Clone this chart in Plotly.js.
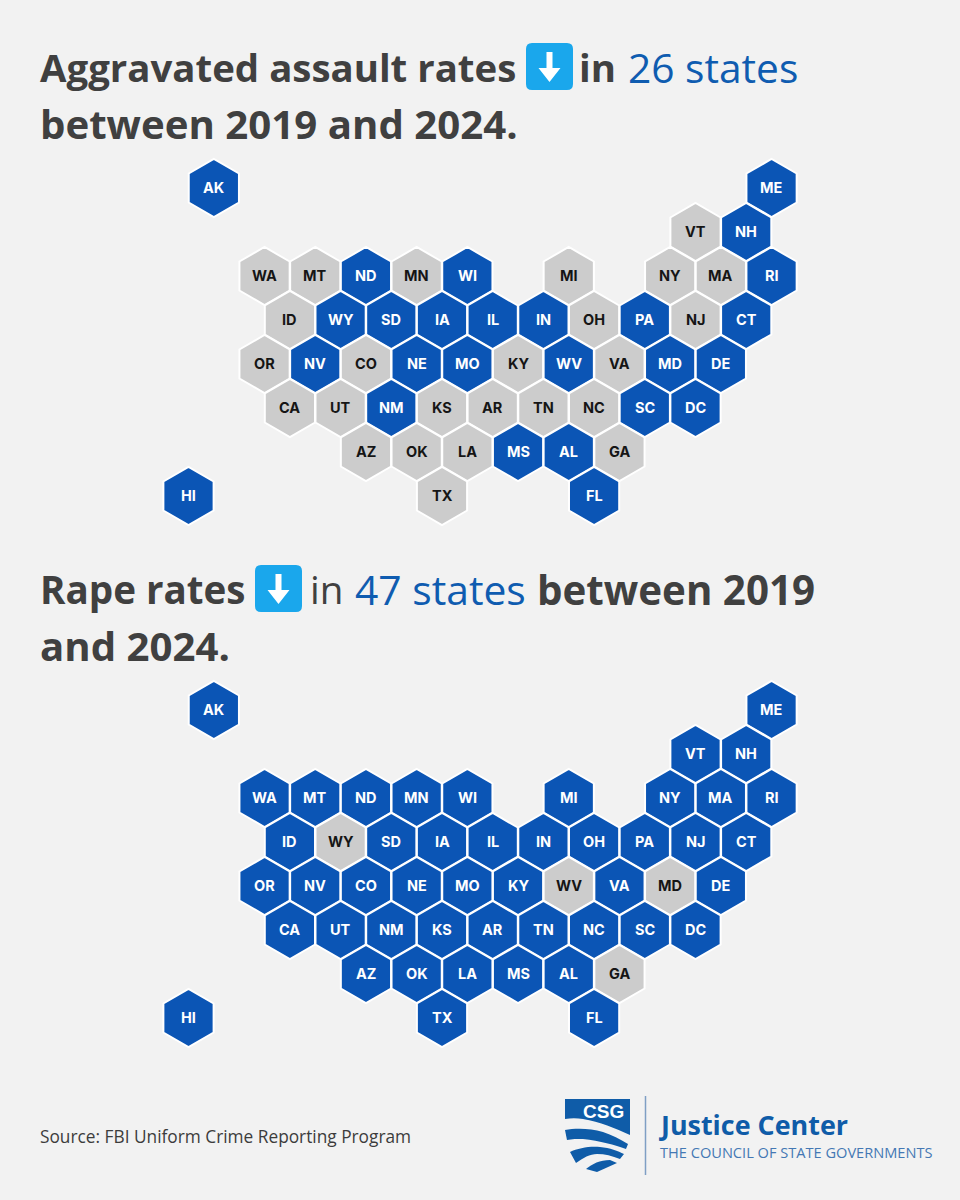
<!DOCTYPE html>
<html><head><meta charset="utf-8">
<script src="https://cdn.plot.ly/plotly-3.0.1.min.js"></script>
<style>html,body{margin:0;padding:0;background:#f2f2f2}</style>
</head><body><div id="chart" style="width:960px;height:1200px"></div>
<script>
const states = ["AK","ME","VT","NH","WA","MT","ND","MN","WI","MI","NY","MA","RI","ID","WY","SD","IA","IL","IN","OH","PA","NJ","CT","OR","NV","CO","NE","MO","KY","WV","VA","MD","DE","CA","UT","NM","KS","AR","TN","NC","SC","DC","AZ","OK","LA","MS","AL","GA","HI","TX","FL"];
const columns = [1,23,20,22,3,5,7,9,11,15,19,21,23,4,6,8,10,12,14,16,18,20,22,3,5,7,9,11,13,15,17,19,21,4,6,8,10,12,14,16,18,20,7,9,11,13,15,17,0,10,16];
const rows = [0,0,1,1,2,2,2,2,2,2,2,2,2,3,3,3,3,3,3,3,3,3,3,4,4,4,4,4,4,4,4,4,4,5,5,5,5,5,5,5,5,5,6,6,6,6,6,6,7,7,7];
const assaultDecline = ["AK","ME","NH","ND","WI","RI","WY","SD","IA","IL","IN","PA","CT","NV","NE","MO","WV","MD","DE","NM","SC","DC","MS","AL","HI","FL"];
const rapeNoDecline = ["WY","WV","MD","GA"];
const BLUE="#0b55b5", GREY="#cccccc", BG="#f2f2f2", DARK="#404040", W=960, H=1200;
const rapeDecline = states.filter(s=>!rapeNoDecline.includes(s));

function hexTrace(declined, xa, ya){
  const d = states.map(s=>declined.includes(s));
  return {type:"scatter",mode:"markers",xaxis:xa,yaxis:ya,x:columns,y:rows,text:states,
    cliponaxis:false,hoverinfo:"text",showlegend:false,
    marker:{symbol:"hexagon",size:58,color:d.map(v=>v?BLUE:GREY),line:{color:"#ffffff",width:2}}};
}
function hexLabels(declined, xa, ya){
  return states.map((s,i)=>({text:s,x:columns[i],y:rows[i],xref:xa,yref:ya,xanchor:"center",yanchor:"middle",
    showarrow:false,yshift:1,borderpad:0,
    font:{family:"Inter, Liberation Sans, sans-serif",size:14.5,weight:700,color:declined.includes(s)?"#ffffff":"#151515"}}));
}
const P=(x,y)=>(x/W).toFixed(5)+","+(1-y/H).toFixed(5);
function px(d){ return d.replace(/(-?[\d.]+) (-?[\d.]+)/g,(m,a,b)=>P(+a,+b)); }
function shape(d,fill){return {type:"path",xref:"paper",yref:"paper",path:px(d),fillcolor:fill,line:{width:0},layer:"above"};}
function icon(x,y){
  const w=47,h=47,r=6,c=x+w/2;
  return [
   shape(`M ${x+r} ${y} L ${x+w-r} ${y} Q ${x+w} ${y} ${x+w} ${y+r} L ${x+w} ${y+h-r} Q ${x+w} ${y+h} ${x+w-r} ${y+h} L ${x+r} ${y+h} Q ${x} ${y+h} ${x} ${y+h-r} L ${x} ${y+r} Q ${x} ${y} ${x+r} ${y} Z`,"#1aa7ec"),
   shape(`M ${c-3} ${y+9} L ${c+3} ${y+9} L ${c+3} ${y+25} L ${c+11} ${y+25} L ${c} ${y+39} L ${c-11} ${y+25} L ${c-3} ${y+25} Z`,"#ffffff")];
}
function label(text,x,y,size,color,weight,family){
  return {text,xref:"paper",yref:"paper",x:(x-2)/W,y:1-y/H,xanchor:"left",yanchor:"middle",showarrow:false,
    font:{family:family||"Open Sans, sans-serif",size,color,weight:weight||400},align:"left"};
}
const annotations=[
 label("Aggravated assault rates",40,67,38.4,DARK,700),
 label("in",579,67,38.4,DARK,700),
 label("26 states",628,67,40.7,"#0f5cb0",400),
 label("between 2019 and 2024.",40,124,40.2,DARK,700),
 label("Rape rates",40,589,38.6,DARK,700),
 label("in",310,589,38.6,DARK,400),
 label("47 states",355,589,40.8,"#0f5cb0",400),
 label("between 2019",537,589,40.3,DARK,700),
 label("and 2024.",40,645.5,40.2,DARK,700),
 label("Source: FBI Uniform Crime Reporting Program",40,1136,17.3,"#3c3c3c",400),
 label("CSG",583,1111,19,"#ffffff",700,"Liberation Sans, sans-serif"),
 label("Justice Center",659,1124,26.9,"#0f5ca8",700),
 label("THE COUNCIL OF STATE GOVERNMENTS",660,1152,14.6,"#4478b4",400),
 ...hexLabels(assaultDecline,"x","y"),
 ...hexLabels(rapeDecline,"x2","y2")
];
const LB="#0f5ca8";
const shapes=[
 ...icon(526,43),...icon(255,565),
 shape("M 565 1099 L 630 1099 L 630 1135 C 615 1128 600 1122 583 1119 C 577 1118 571 1118 565 1119 Z",LB),
 shape("M 565 1130 C 575 1128 590 1128 603 1132 C 612 1135 620 1139 628 1144 L 626 1149 C 615 1145 600 1141 583 1139 C 577 1139 572 1139 567 1140 Z",LB),
 shape("M 570 1152 C 578 1148 590 1146 600 1147 C 610 1148 618 1151 624 1154 L 620 1159 C 612 1156 605 1154 597 1154 C 590 1154 583 1158 576 1163 Z",LB),
 shape("M 586 1169 C 592 1164 600 1160 610 1160 L 617 1163 L 597 1172 Z",LB),
 {type:"line",xref:"paper",yref:"paper",x0:645.5/W,x1:645.5/W,y0:1-1096/H,y1:1-1175/H,line:{color:"#7f9fc4",width:1.5}}
];
// map pixel placement through axis ranges: col step 25.35 px from x=188.5; row step 44 px
const xr=[-188.5/25.35,(W-188.5)/25.35];
const topPx=[150,530], botPx=[672,1052];
function yAxis(p,y0,anchor){return {domain:[1-p[1]/H,1-p[0]/H],range:[(p[1]-y0)/44,(p[0]-y0)/44],visible:false,fixedrange:true,anchor};}
const layout={width:W,height:H,margin:{l:0,r:0,t:0,b:0},paper_bgcolor:BG,plot_bgcolor:"rgba(0,0,0,0)",showlegend:false,
 xaxis:{domain:[0,1],range:xr,visible:false,fixedrange:true,anchor:"y"},
 yaxis:yAxis(topPx,188,"x"),
 xaxis2:{domain:[0,1],range:xr,visible:false,fixedrange:true,anchor:"y2"},
 yaxis2:yAxis(botPx,710,"x2"),
 shapes,annotations};
Plotly.newPlot("chart",[hexTrace(assaultDecline,"x","y"),hexTrace(rapeDecline,"x2","y2")],layout,{displayModeBar:false,staticPlot:true});
</script></body></html>
